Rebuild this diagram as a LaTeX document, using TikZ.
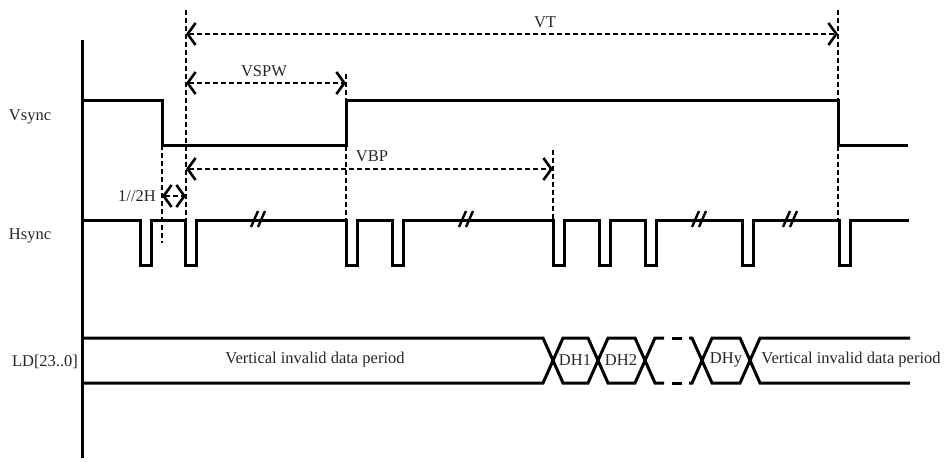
\documentclass[tikz,border=0pt]{standalone}
\usepackage{fontspec}
\setmainfont{Liberation Serif}
\usetikzlibrary{arrows.meta}

\begin{document}
\begin{tikzpicture}[
  x=1pt, y=-1pt,
  font=\fontsize{16.5}{18}\selectfont,
  sig/.style={line width=3pt, line join=miter},
  guide/.style={line width=2.8pt, dash pattern=on 5pt off 3pt},
  barb/.tip={Straight Barb[length=8pt, width=22pt, line width=2.6pt]},
  dim/.style={guide, barb-barb},
  lbl/.style={inner sep=1pt, text=black!85},
  brk/.style={line width=2.4pt}
]
\useasboundingbox (0,0) rectangle (944,461);

% signal names
\node[lbl] (vsyncname) at (30,117) {Vsync};
\node[lbl] (hsyncname) at (30,236) {Hsync};
\node[lbl] (ldname) at (45,362) {LD[23..0]};

% time axis
\draw[sig] (82,40) -- (82,458);

% Vsync
\draw[sig] (82,100) -- (162,100) -- (162,145) -- (346,145) -- (346,100) -- (838,100) -- (838,145) -- (908,145);

% Hsync
\draw[sig] (82,220) \foreach \p in {140,185,346,392,553,599,645,742,839} {
  -- (\p,220) -- (\p,265) -- (\p+11,265) -- (\p+11,220) } -- (909,220);
\foreach \b in {258,466,699,790} {
  \draw[brk] (\b-7,227) -- (\b,211);
  \draw[brk] (\b,227) -- (\b+7,211);
}

% guides
\draw[guide] (186,10) -- (186,220);
\draw[guide] (162,145) -- (162,243);
\draw[guide] (346,74) -- (346,220);
\draw[guide] (553,150) -- (553,220);
\draw[guide] (838,10) -- (838,220);

% dimensions
\coordinate (vtL) at (186,34);  \coordinate (vtR) at (838,34);
\coordinate (pwL) at (186,83);  \coordinate (pwR) at (346,83);
\coordinate (bpL) at (186,169); \coordinate (bpR) at (553,169);
\coordinate (hhL) at (162,196); \coordinate (hhR) at (186,196);
\draw[dim] (vtL) -- (vtR);
\draw[dim] (pwL) -- (pwR);
\draw[dim] (bpL) -- (bpR);
\draw[dim] (hhL) -- (hhR);
\node[lbl] (vt) at (545,22) {VT};
\node[lbl] (vspw) at (264,71) {VSPW};
\node[lbl] (vbp) at (372,156) {VBP};
\node[lbl, anchor=east] (half) at ([xshift=-5pt]hhL) {1//2H};

% LD bus
\draw[sig] (82,338) -- (543,338) -- (563,383) -- (588,383) -- (608,338) -- (635,338) -- (655,383) -- (664,383);
\draw[sig] (82,383) -- (543,383) -- (563,338) -- (588,338) -- (608,383) -- (635,383) -- (655,338) -- (664,338);
\draw[sig] (672,338) -- (682,338);
\draw[sig] (672,383) -- (682,383);
\draw[sig] (689,338) -- (692,338) -- (712,383) -- (740,383) -- (760,338) -- (910,338);
\draw[sig] (689,383) -- (692,383) -- (712,338) -- (740,338) -- (760,383) -- (910,383);
\node[lbl] (inv1) at (315,360) {Vertical invalid data period};
\node[lbl] (dh1) at (575,360) {DH1};
\node[lbl] (dh2) at (621,360) {DH2};
\node[lbl] (dhy) at (726,360) {DHy};
\node[lbl] (inv2) at (851,360) {Vertical invalid data period};
\end{tikzpicture}
\end{document}
